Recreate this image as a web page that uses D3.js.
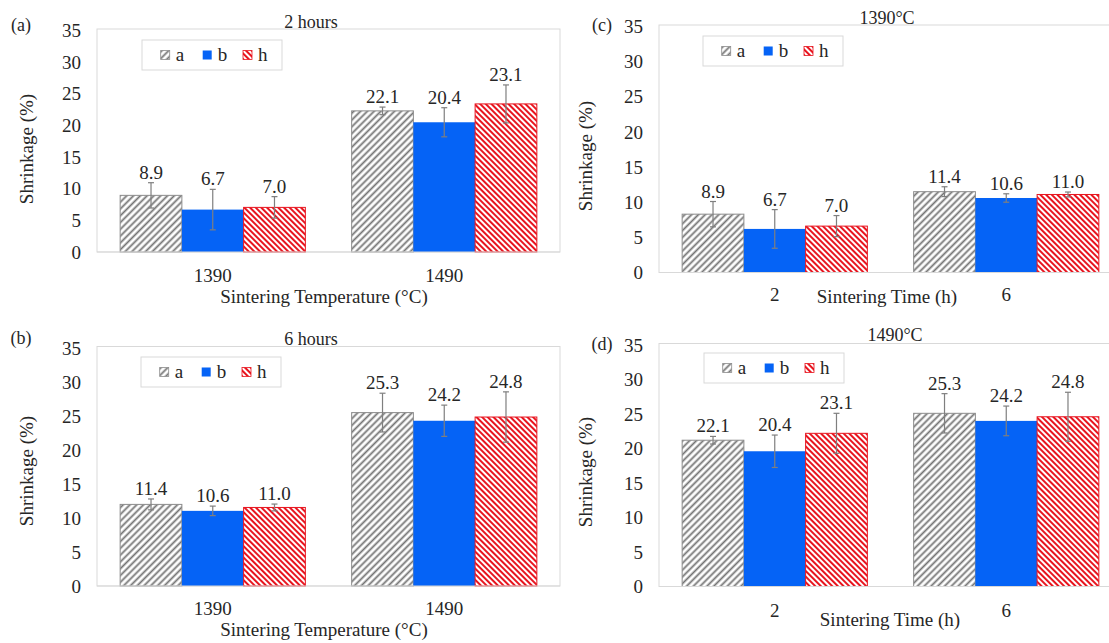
<!DOCTYPE html>
<html>
<head>
<meta charset="utf-8">
<script src="https://cdn.jsdelivr.net/npm/d3@7"></script>
<style>
  body { margin: 0; background: #fff; }
  svg, svg text { font-family: "Liberation Serif", "Times New Roman", serif; }
  text { fill: #262626; }
</style>
</head>
<body>
<svg id="chart" width="1109" height="643"></svg>
<script>
// ---- data ----
const seriesNames = ["a", "b", "h"];
const tempCats = ["1390", "1490"];
const timeCats = ["2", "6"];
const yTicks = [0, 5, 10, 15, 20, 25, 30, 35];

// (a) 2 hours
const barsA = [[8.95, 6.7, 7.05], [22.3, 20.5, 23.4]];
const errA = [[2.0, 3.2, 1.7], [0.6, 2.3, 3.0]];
const labelsA = [["8.9", "6.7", "7.0"], ["22.1", "20.4", "23.1"]];

// (b) 6 hours
const barsB = [[12.0, 11.05, 11.55], [25.5, 24.3, 24.85]];
const errB = [[0.8, 0.7, 0.5], [2.85, 2.3, 3.7]];
const labelsB = [["11.4", "10.6", "11.0"], ["25.3", "24.2", "24.8"]];

// (c) 1390°C
const barsC = [[8.3, 6.2, 6.6], [11.5, 10.6, 11.1]];
const errC = [[1.8, 2.75, 1.5], [0.7, 0.6, 0.35]];
const labelsC = [["8.9", "6.7", "7.0"], ["11.4", "10.6", "11.0"]];

// (d) 1490°C
const barsD = [[21.2, 19.6, 22.2], [25.1, 24.0, 24.6]];
const errD = [[0.55, 2.35, 2.9], [2.85, 2.15, 3.55]];
const labelsD = [["22.1", "20.4", "23.1"], ["25.3", "24.2", "24.8"]];

const FONT = '"Liberation Serif", "Times New Roman", serif';

const svg = d3.select("#chart");
const defs = svg.append("defs");

// hatch patterns
function hatch(id, size, angle, color, width) {
  const p = defs.append("pattern")
    .attr("id", id)
    .attr("patternUnits", "userSpaceOnUse")
    .attr("width", size).attr("height", size)
    .attr("patternTransform", "rotate(" + angle + ")");
  p.append("rect").attr("width", size).attr("height", size).attr("fill", "#fff");
  p.append("line")
    .attr("x1", size / 2).attr("x2", size / 2)
    .attr("y1", 0).attr("y2", size)
    .attr("stroke", color).attr("stroke-width", width);
}
hatch("hGray", 4.8, 45, "#737373", 1.8);
hatch("hRed", 4.0, -45, "#e8151f", 2.0);

const fills = { a: "url(#hGray)", b: "#0563f6", h: "url(#hRed)" };
const strokes = { a: "#8c8c8c", b: "none", h: "#e8151f" };

const panels = [
  { letter: "(a)", title: "2 hours", cats: tempCats, xTitle: "Sintering Temperature (°C)",
    bars: barsA, errs: errA, labels: labelsA,
    x0: 97, x1: 560, yTop: 30.5, yBot: 252, titleX: 311, titleY: 28, letterX: 21, letterY: 31,
    legX: 142, legY: 40, catY: 282, xtX: 324, xtY: 303, ylX: 27, ylY: 149 },
  { letter: "(b)", title: "6 hours", cats: tempCats, xTitle: "Sintering Temperature (°C)",
    bars: barsB, errs: errB, labels: labelsB,
    x0: 97, x1: 560, yTop: 348, yBot: 586, titleX: 311, titleY: 345, letterX: 21, letterY: 344,
    legX: 141, legY: 357, catY: 615, xtX: 324, xtY: 636, ylX: 27, ylY: 471 },
  { letter: "(c)", title: "1390°C", cats: timeCats, xTitle: "Sintering Time (h)",
    bars: barsC, errs: errC, labels: labelsC,
    x0: 659, x1: 1122, yTop: 26.5, yBot: 272.5, titleX: 887, titleY: 24, letterX: 602, letterY: 31,
    legX: 703, legY: 36, catY: 301, xtX: 887, xtY: 303, ylX: 586, ylY: 156 },
  { letter: "(d)", title: "1490°C", cats: timeCats, xTitle: "Sintering Time (h)",
    bars: barsD, errs: errD, labels: labelsD,
    x0: 659, x1: 1122, yTop: 345, yBot: 586.5, titleX: 895, titleY: 341, letterX: 602, letterY: 350,
    legX: 704, legY: 353, catY: 617, xtX: 890, xtY: 626, ylX: 586, ylY: 472 }
];

panels.forEach(function (p) {
  const g = svg.append("g");

  const x = d3.scaleBand().domain(p.cats).range([p.x0, p.x1]);
  const xs = d3.scaleBand().domain(seriesNames).range([0, x.bandwidth() * 0.8]);
  const y = d3.scaleLinear().domain([0, 35]).range([p.yBot, p.yTop]);

  // plot box
  g.append("rect")
    .attr("x", p.x0).attr("y", p.yTop - 1.5)
    .attr("width", p.x1 - p.x0).attr("height", p.yBot - p.yTop + 1.5)
    .attr("fill", "none").attr("stroke", "#d9d9d9");

  // y axis
  const ya = g.append("g")
    .attr("transform", "translate(" + p.x0 + ",0)")
    .call(d3.axisLeft(y).tickValues(yTicks).tickSize(0).tickPadding(16));
  ya.select(".domain").remove();
  ya.attr("font-family", FONT).attr("font-size", 19);

  // x category labels
  g.selectAll(".cat").data(p.cats).enter().append("text")
    .attr("x", d => x(d) + x.bandwidth() / 2)
    .attr("y", p.catY)
    .attr("text-anchor", "middle")
    .style("font-size", "19px")
    .text(d => d);

  // bars
  const rows = [];
  p.cats.forEach(function (c, i) {
    seriesNames.forEach(function (s, j) {
      rows.push({ cat: c, s: s, v: p.bars[i][j], e: p.errs[i][j], lbl: p.labels[i][j] });
    });
  });
  const off = d => x(d.cat) + x.bandwidth() * 0.1 + xs(d.s);

  g.selectAll(".bar").data(rows).enter().append("rect")
    .attr("x", d => off(d))
    .attr("y", d => y(d.v))
    .attr("width", xs.bandwidth())
    .attr("height", d => y(0) - y(d.v))
    .attr("fill", d => fills[d.s])
    .attr("stroke", d => strokes[d.s])
    .attr("stroke-width", 1);

  // baseline
  g.append("line")
    .attr("x1", p.x0).attr("x2", p.x1)
    .attr("y1", y(0)).attr("y2", y(0))
    .attr("stroke", "#d9d9d9");

  // error bars
  const eb = g.selectAll(".err").data(rows).enter().append("g")
    .attr("stroke", "#7f7f7f").attr("stroke-width", 1.2);
  eb.append("line")
    .attr("x1", d => off(d) + xs.bandwidth() / 2).attr("x2", d => off(d) + xs.bandwidth() / 2)
    .attr("y1", d => y(d.v + d.e)).attr("y2", d => y(d.v - d.e));
  eb.append("line")
    .attr("x1", d => off(d) + xs.bandwidth() / 2 - 3).attr("x2", d => off(d) + xs.bandwidth() / 2 + 3)
    .attr("y1", d => y(d.v + d.e)).attr("y2", d => y(d.v + d.e));
  eb.append("line")
    .attr("x1", d => off(d) + xs.bandwidth() / 2 - 3).attr("x2", d => off(d) + xs.bandwidth() / 2 + 3)
    .attr("y1", d => y(d.v - d.e)).attr("y2", d => y(d.v - d.e));

  // data labels
  g.selectAll(".lbl").data(rows).enter().append("text")
    .attr("x", d => off(d) + xs.bandwidth() / 2)
    .attr("y", d => y(d.v + d.e) - 4)
    .attr("text-anchor", "middle")
    .style("font-size", "19px")
    .text(d => d.lbl);

  // titles
  g.append("text").attr("x", p.titleX).attr("y", p.titleY)
    .attr("text-anchor", "middle").style("font-size", "18px").text(p.title);
  g.append("text").attr("x", p.letterX).attr("y", p.letterY)
    .attr("text-anchor", "middle").style("font-size", "18px").text(p.letter);
  g.append("text").attr("x", p.xtX).attr("y", p.xtY)
    .attr("text-anchor", "middle").style("font-size", "19px").text(p.xTitle);
  g.append("text")
    .attr("transform", "translate(" + (p.ylX + 6) + "," + p.ylY + ") rotate(-90)")
    .attr("text-anchor", "middle").style("font-size", "19px").text("Shrinkage (%)");

  // legend
  const lg = g.append("g").attr("transform", "translate(" + p.legX + "," + p.legY + ")");
  lg.append("rect").attr("width", 140).attr("height", 30)
    .attr("fill", "#fff").attr("stroke", "#d9d9d9");
  const legX = { a: 18.7, b: 60.7, h: 101 };
  seriesNames.forEach(function (s) {
    lg.append("rect")
      .attr("x", legX[s]).attr("y", 10.5)
      .attr("width", 9).attr("height", 9)
      .attr("fill", fills[s])
      .attr("stroke", s === "b" ? "none" : strokes[s]).attr("stroke-width", 0.8);
    lg.append("text")
      .attr("x", legX[s] + 15).attr("y", 21)
      .style("font-size", "19px")
      .text(s);
  });
});

svg.selectAll("text").style("font-family", FONT);
</script>
</body>
</html>
